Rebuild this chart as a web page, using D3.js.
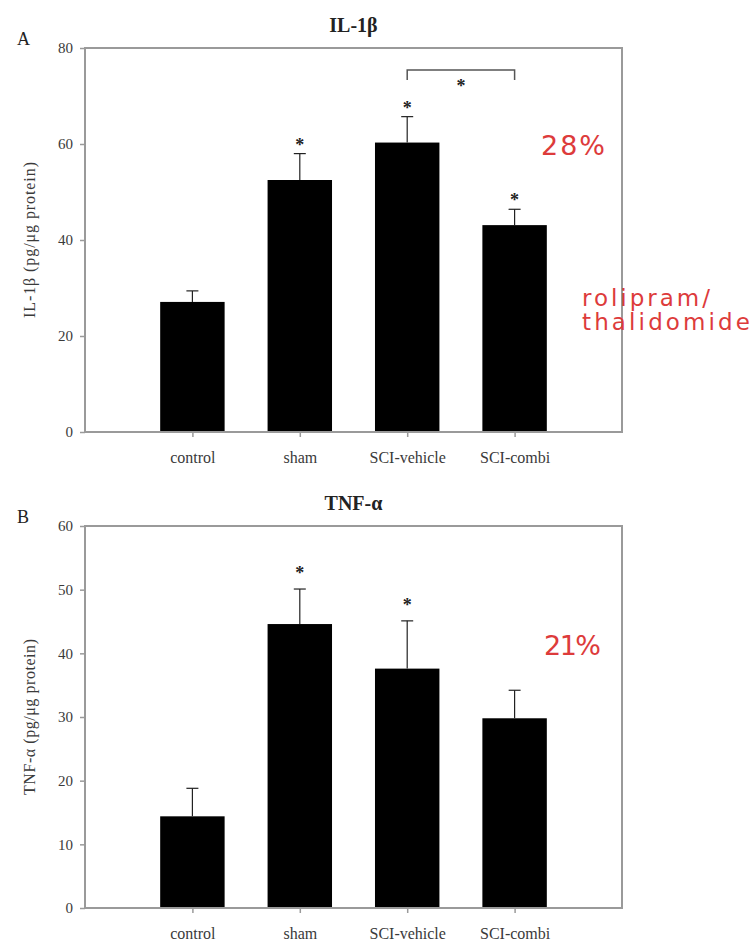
<!DOCTYPE html>
<html>
<head>
<meta charset="utf-8">
<script src="https://cdn.jsdelivr.net/npm/d3@7"></script>
<style>
  html, body { margin: 0; padding: 0; background: #fff; }
  svg { display: block; }
</style>
</head>
<body>
<svg id="chart" width="754" height="942"></svg>
<script>
// Groups shown on the x axis of both panels
const categories = ["control", "sham", "SCI-vehicle", "SCI-combi"];

// Panel A: IL-1β (pg/μg protein), mean and upper SEM
const il1bMean = [27.1, 52.5, 60.3, 43.1];
const il1bErr  = [2.3, 5.5, 5.4, 3.3];
const il1bSig  = [false, true, true, true];
const il1bTicks = [0, 20, 40, 60, 80];

// Panel B: TNF-α (pg/μg protein), mean and upper SEM
const tnfMean = [14.4, 44.6, 37.6, 29.8];
const tnfErr  = [4.4, 5.5, 7.5, 4.4];
const tnfSig  = [false, true, true, false];
const tnfTicks = [0, 10, 20, 30, 40, 50, 60];

// Significance bracket between SCI-vehicle and SCI-combi (panel A)
const il1bBracket = { from: "SCI-vehicle", to: "SCI-combi", value: 75.4 };

// Red handwritten-style notes
const noteA = { pct: "28%", drug: ["rolipram/", "thalidomide"] };
const noteB = { pct: "21%" };

const svg = d3.select("#chart");
const serif = "'Liberation Serif', 'DejaVu Serif', serif";
const handFont = "'DejaVu Sans', 'Noto Sans', sans-serif";
const frameColor = "#9a9a9a";
const textColor = "#3a3a3a";
const red = "#dd3b3b";

const xLeft = 85, xRight = 622;

function drawPanel(cfg) {
  const g = svg.append("g");
  const x = d3.scalePoint().domain(categories).range([xLeft, xRight]).padding(1);
  const y = d3.scaleLinear().domain([0, cfg.ticks[cfg.ticks.length - 1]]).range([cfg.bottom, cfg.top]);
  const barW = x.step() * 0.6;

  // Bars
  g.selectAll("rect.bar").data(categories).join("rect")
    .attr("class", "bar")
    .attr("x", d => x(d) - barW / 2)
    .attr("width", barW)
    .attr("y", (d, i) => y(cfg.mean[i]))
    .attr("height", (d, i) => y(0) - y(cfg.mean[i]))
    .attr("fill", "#000");

  // Upper error bars
  const capW = 12;
  const eb = g.selectAll("g.err").data(categories).join("g").attr("class", "err");
  eb.append("line")
    .attr("x1", d => x(d)).attr("x2", d => x(d))
    .attr("y1", (d, i) => y(cfg.mean[i]))
    .attr("y2", (d, i) => y(cfg.mean[i] + cfg.err[i]))
    .attr("stroke", "#222").attr("stroke-width", 1.2);
  eb.append("line")
    .attr("x1", d => x(d) - capW / 2).attr("x2", d => x(d) + capW / 2)
    .attr("y1", (d, i) => y(cfg.mean[i] + cfg.err[i]))
    .attr("y2", (d, i) => y(cfg.mean[i] + cfg.err[i]))
    .attr("stroke", "#222").attr("stroke-width", 1.2);

  // Asterisks above significant groups
  g.selectAll("text.star").data(categories.filter((d, i) => cfg.sig[i])).join("text")
    .attr("class", "star")
    .attr("x", d => x(d))
    .attr("y", d => y(cfg.mean[categories.indexOf(d)] + cfg.err[categories.indexOf(d)]) - cfg.starGap + 10)
    .attr("text-anchor", "middle")
    .attr("font-family", serif).attr("font-size", 18).attr("font-weight", "bold")
    .attr("fill", "#222")
    .text("*");

  // Frame
  g.append("rect")
    .attr("x", xLeft).attr("y", cfg.top)
    .attr("width", xRight - xLeft).attr("height", cfg.bottom - cfg.top)
    .attr("fill", "none").attr("stroke", frameColor).attr("stroke-width", 2);

  // Y axis
  const yAxis = g.append("g").attr("transform", `translate(${xLeft},0)`)
    .call(d3.axisLeft(y).tickValues(cfg.ticks).tickSize(5).tickPadding(7).tickFormat(d3.format("d")));
  yAxis.select(".domain").remove();
  yAxis.selectAll(".tick line").attr("stroke", frameColor).attr("stroke-width", 1.5);
  yAxis.selectAll(".tick text")
    .attr("font-family", serif).attr("font-size", 15).attr("fill", textColor);

  // X axis
  const xAxis = g.append("g").attr("transform", `translate(0,${cfg.bottom})`)
    .call(d3.axisBottom(x).tickSize(5).tickPadding(15));
  xAxis.select(".domain").remove();
  xAxis.selectAll(".tick line").attr("stroke", frameColor).attr("stroke-width", 1.5);
  xAxis.selectAll(".tick text")
    .attr("font-family", serif).attr("font-size", 16).attr("fill", textColor);

  // Y axis title
  g.append("text")
    .attr("transform", `translate(35,${(cfg.top + cfg.bottom) / 2}) rotate(-90)`)
    .attr("text-anchor", "middle")
    .attr("font-family", serif).attr("font-size", 16).attr("fill", textColor)
    .attr("textLength", 156).attr("lengthAdjust", "spacing")
    .text(cfg.yLabel);

  // Panel title and letter
  g.append("text")
    .attr("x", (xLeft + xRight) / 2).attr("y", cfg.top - 16)
    .attr("text-anchor", "middle")
    .attr("font-family", serif).attr("font-size", 20).attr("font-weight", "bold")
    .attr("fill", "#222")
    .text(cfg.title);
  g.append("text")
    .attr("x", 17).attr("y", cfg.top - 3)
    .attr("font-family", serif).attr("font-size", 18)
    .attr("fill", "#222")
    .text(cfg.letter);

  return { g, x, y };
}

// Panel A
const pA = drawPanel({
  top: 48, bottom: 432, mean: il1bMean, err: il1bErr, sig: il1bSig, ticks: il1bTicks,
  starGap: 13, title: "IL-1β", letter: "A", yLabel: "IL-1β (pg/μg protein)"
});

// Bracket between SCI-vehicle and SCI-combi
{
  const bx1 = pA.x(il1bBracket.from), bx2 = pA.x(il1bBracket.to);
  const by = pA.y(il1bBracket.value);
  pA.g.append("path")
    .attr("d", `M${bx1},${by + 10}V${by}H${bx2}V${by + 10}`)
    .attr("fill", "none").attr("stroke", "#555").attr("stroke-width", 1.5);
  pA.g.append("text")
    .attr("x", (bx1 + bx2) / 2).attr("y", by + 22)
    .attr("text-anchor", "middle")
    .attr("font-family", serif).attr("font-size", 18).attr("font-weight", "bold")
    .attr("fill", "#222")
    .text("*");
}

// Panel B
drawPanel({
  top: 526, bottom: 908, mean: tnfMean, err: tnfErr, sig: tnfSig, ticks: tnfTicks,
  starGap: 20, title: "TNF-α", letter: "B", yLabel: "TNF-α (pg/μg protein)"
});

// Red notes
svg.append("text")
  .attr("x", 541).attr("y", 155)
  .attr("font-family", handFont).attr("font-size", 27).attr("fill", red)
  .attr("textLength", 64).attr("lengthAdjust", "spacing")
  .text(noteA.pct);
svg.append("text")
  .attr("x", 582).attr("y", 306)
  .attr("font-family", handFont).attr("font-size", 23).attr("fill", red)
  .attr("textLength", 128).attr("lengthAdjust", "spacing")
  .text(noteA.drug[0]);
svg.append("text")
  .attr("x", 582).attr("y", 330)
  .attr("font-family", handFont).attr("font-size", 23).attr("fill", red)
  .attr("textLength", 168).attr("lengthAdjust", "spacing")
  .text(noteA.drug[1]);
svg.append("text")
  .attr("x", 544).attr("y", 655)
  .attr("font-family", handFont).attr("font-size", 27).attr("fill", red)
  .attr("textLength", 57).attr("lengthAdjust", "spacing")
  .text(noteB.pct);
</script>
</body>
</html>
